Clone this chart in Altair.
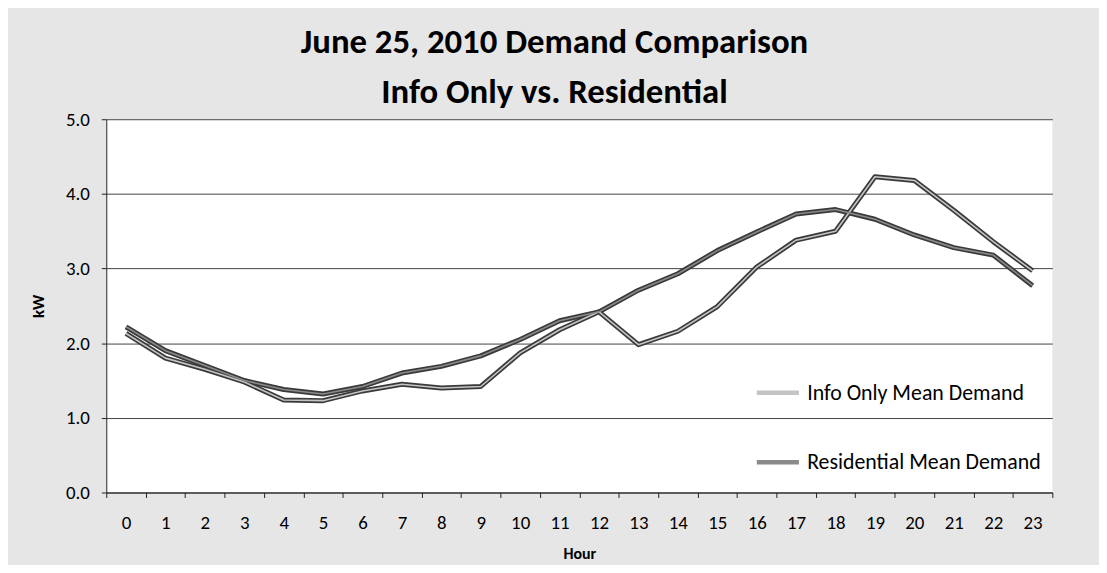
import altair as alt
import pandas as pd

hours = list(range(24))
info_only = [2.13, 1.80, 1.65, 1.48, 1.24, 1.23, 1.36, 1.45, 1.40, 1.42, 1.87, 2.18,
             2.42, 1.98, 2.16, 2.49, 3.02, 3.38, 3.50, 4.23, 4.18, 3.78, 3.36, 2.97]
residential = [2.22, 1.90, 1.70, 1.50, 1.38, 1.32, 1.42, 1.60, 1.69, 1.83, 2.05, 2.30,
               2.42, 2.71, 2.93, 3.24, 3.49, 3.73, 3.79, 3.66, 3.45, 3.28, 3.18, 2.77]
series_names = ["Info Only Mean Demand", "Residential Mean Demand"]
y_ticks = [0, 1, 2, 3, 4, 5]
title_lines = ["June 25, 2010 Demand Comparison", "Info Only vs. Residential"]

rows = []
for name, vals in zip(series_names, [info_only, residential]):
    for h, v in zip(hours, vals):
        rows.append({"Hour": h, "kW": v, "Series": name})
df = pd.DataFrame(rows)

FONT = "Carlito, Lato, 'Liberation Sans', sans-serif"

x_enc = alt.X(
    "Hour:O",
    scale=alt.Scale(type="band", paddingInner=0, paddingOuter=0),
    axis=alt.Axis(
        title="Hour", labelAngle=0, tickBand="extent", ticks=True, tickSize=5,
        tickColor="#222", domainColor="#222", labelPadding=16, titlePadding=14,
        labelFontSize=19, titleFontSize=16, titleFontWeight="bold", grid=False,
    ),
)
y_enc = alt.Y(
    "kW:Q",
    scale=alt.Scale(domain=[0, 5], nice=False),
    axis=alt.Axis(
        title="kW", values=y_ticks, format=".1f", tickSize=5, tickColor="#222",
        domainColor="#222", labelPadding=12, titlePadding=18, labelFontSize=19,
        titleFontSize=17, titleFontWeight="bold", grid=True, gridColor="#444",
        gridWidth=1,
    ),
)

base = alt.Chart(df).encode(x=x_enc, y=y_enc)

outer = base.mark_line(strokeWidth=5, color="#3a3a3a", strokeJoin="round").encode(
    detail="Series:N"
)
inner = base.mark_line(strokeWidth=1.6, strokeJoin="round").encode(
    color=alt.Color(
        "Series:N",
        scale=alt.Scale(domain=series_names, range=["#c4c4c4", "#8a8a8a"]),
        legend=alt.Legend(
            title=None, orient="none", legendX=653, legendY=252,
            symbolType="stroke", symbolSize=1800, symbolStrokeWidth=4.5,
            labelFontSize=22, rowPadding=35, labelOffset=6, labelLimit=0,
        ),
    )
)

chart = (
    alt.layer(outer, inner)
    .properties(
        width=953,
        height=376,
        autosize=alt.AutoSizeParams(type="none"),
        padding={"left": 99, "top": 110, "right": 47, "bottom": 71},
        background="#e6e6e6",
        title=alt.TitleParams(
            text=title_lines, fontSize=35, fontWeight="bold", lineHeight=51,
            anchor="middle", dx=-25, offset=0, font=FONT, color="#000",
        ),
    )
    .configure(font=FONT)
    .configure_view(fill="white", stroke=None)
    .configure_axis(labelColor="#000", titleColor="#000", labelFont=FONT, titleFont=FONT)
    .configure_legend(labelFont=FONT, labelColor="#000")
)

chart.save("out.html", embed_options={"renderer": "svg", "actions": False})
